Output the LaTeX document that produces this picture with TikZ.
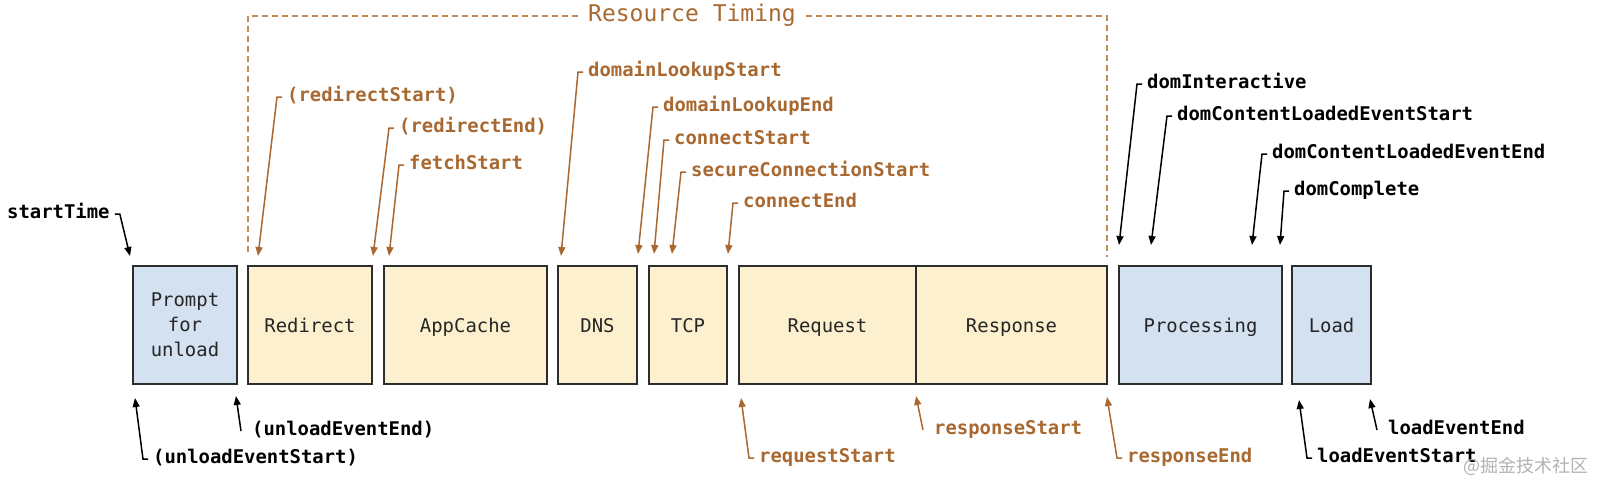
\documentclass[tikz,border=0pt]{standalone}
\usepackage{fontspec}
\usepackage{xcolor}
\usepackage{tikz}
\setmonofont{DejaVu Sans Mono}
\newfontfamily\cjkfont{Noto Sans CJK SC}
\definecolor{browserblue}{RGB}{212, 225, 241}
\definecolor{netyellow}{RGB}{252, 240, 207}
\definecolor{boxline}{RGB}{45, 45, 45}
\definecolor{timingbrown}{RGB}{168, 104, 48}
\definecolor{bracketbrown}{RGB}{196, 138, 86}
\usetikzlibrary{arrows.meta, positioning, calc}

\begin{document}
\begin{tikzpicture}[
    x=1pt, y=-1pt,
    phase/.style={rectangle, draw=boxline, line width=1.6pt, minimum height=118pt,
                  outer sep=0pt, align=center, text=black!85, text height=18pt, text depth=3pt,
                  font=\ttfamily\fontsize{18.9}{25}\selectfont},
    browser/.style={phase, fill=browserblue},
    network/.style={phase, fill=netyellow},
    event/.style={anchor=west, inner xsep=5pt, inner ysep=0pt, text height=14pt, text depth=5pt,
                  font=\ttfamily\bfseries\fontsize{18.9}{23}\selectfont},
    netevent/.style={event, text=timingbrown},
    arrow/.style={-{Triangle[length=9pt, width=7pt]}, line width=1.5pt, black},
    netarrow/.style={arrow, timingbrown},
    bracket/.style={bracketbrown, line width=1.2pt, dash pattern=on 6pt off 4pt}
]
    \useasboundingbox (0,0) rectangle (1597,482);

    % phases
    \node[browser, minimum width=104pt, text height=, text depth=] (prompt) at (185,325) {\rule{0pt}{7pt}Prompt\\for\\unload};
    \node[network, minimum width=124pt, right=11pt of prompt] (redirect) {Redirect};
    \node[network, minimum width=163pt, right=12pt of redirect] (appcache) {AppCache};
    \node[network, minimum width=79pt, right=11pt of appcache] (dns) {DNS};
    \node[network, minimum width=78pt, right=12pt of dns] (tcp) {TCP};
    \node[network, minimum width=177pt, right=12pt of tcp] (request) {Request};
    \node[network, minimum width=191pt, right=0pt of request] (response) {Response};
    \node[browser, minimum width=163pt, right=12pt of response] (processing) {Processing};
    \node[browser, minimum width=79pt, right=10pt of processing] (load) {Load};

    % Resource Timing bracket
    \node[anchor=center, inner xsep=10pt, inner ysep=0pt, text height=15pt, text depth=5pt,
          text=timingbrown, font=\ttfamily\fontsize{23}{26}\selectfont] (restiming) at (692,16) {Resource Timing};
    \draw[bracket] (restiming.west) -| ([yshift=11pt]redirect.north west);
    \draw[bracket] (restiming.east) -| ([yshift=9pt]response.north east);

    % arrow tips
    \coordinate (tStartTime) at ([xshift=-3pt, yshift=10pt]prompt.north west);
    \coordinate (tRedirectStart) at ([xshift=10pt, yshift=10pt]redirect.north west);
    \coordinate (tRedirectEnd) at ([xshift=1pt, yshift=10pt]redirect.north east);
    \coordinate (tFetchStart) at ([xshift=5pt, yshift=10pt]appcache.north west);
    \coordinate (tLookupStart) at ([xshift=3pt, yshift=10pt]dns.north west);
    \coordinate (tLookupEnd) at ([xshift=1pt, yshift=12pt]dns.north east);
    \coordinate (tConnectStart) at ([xshift=5pt, yshift=12pt]tcp.north west);
    \coordinate (tSecureStart) at ([xshift=23pt, yshift=12pt]tcp.north west);
    \coordinate (tConnectEnd) at ([xshift=1pt, yshift=12pt]tcp.north east);
    \coordinate (tDomInteractive) at ([yshift=21pt]processing.north west);
    \coordinate (tContentStart) at ([xshift=32pt, yshift=21pt]processing.north west);
    \coordinate (tContentEnd) at ([xshift=-30pt, yshift=21pt]processing.north east);
    \coordinate (tDomComplete) at ([xshift=-2pt, yshift=21pt]processing.north east);
    \coordinate (tUnloadStart) at ([xshift=2pt, yshift=-14pt]prompt.south west);
    \coordinate (tUnloadEnd) at ([xshift=-1pt, yshift=-12pt]prompt.south east);
    \coordinate (tRequestStart) at ([xshift=2pt, yshift=-14pt]request.south west);
    \coordinate (tResponseStart) at ([yshift=-12pt]request.south east);
    \coordinate (tResponseEnd) at ([yshift=-13pt]response.south east);
    \coordinate (tLoadStart) at ([xshift=7pt, yshift=-16pt]load.south west);
    \coordinate (tLoadEnd) at ([xshift=-1pt, yshift=-15pt]load.south east);

    % events above
    \node[event] (lStartTime) at (2,214) {startTime};
    \node[netevent] (lRedirectStart) at (282,97) {(redirectStart)};
    \node[netevent] (lRedirectEnd) at (394,128) {(redirectEnd)};
    \node[netevent] (lFetchStart) at (404,165) {fetchStart};
    \node[netevent] (lLookupStart) at (583,72) {domainLookupStart};
    \node[netevent] (lLookupEnd) at (658,107) {domainLookupEnd};
    \node[netevent] (lConnectStart) at (669,140) {connectStart};
    \node[netevent] (lSecureStart) at (686,172) {secureConnectionStart};
    \node[netevent] (lConnectEnd) at (738,203) {connectEnd};
    \node[event] (lDomInteractive) at (1142,84) {domInteractive};
    \node[event] (lContentStart) at (1172,116) {domContentLoadedEventStart};
    \node[event] (lContentEnd) at (1267,154) {domContentLoadedEventEnd};
    \node[event] (lDomComplete) at (1289,191) {domComplete};

    % events below
    \node[event] (lUnloadStart) at (148,459) {(unloadEventStart)};
    \node[event] (lUnloadEnd) at (247,431) {(unloadEventEnd)};
    \node[netevent] (lRequestStart) at (754,458) {requestStart};
    \node[netevent] (lResponseStart) at (929,430) {responseStart};
    \node[netevent] (lResponseEnd) at (1122,458) {responseEnd};
    \node[event] (lLoadStart) at (1312,458) {loadEventStart};
    \node[event] (lLoadEnd) at (1383,430) {loadEventEnd};

    \draw[arrow] (lStartTime.east) -- ++(5,0) -- (tStartTime);
    \draw[netarrow] (lRedirectStart.west) -- ++(-5,0) -- (tRedirectStart);
    \draw[netarrow] (lRedirectEnd.west) -- ++(-5,0) -- (tRedirectEnd);
    \draw[netarrow] (lFetchStart.west) -- ++(-5,0) -- (tFetchStart);
    \draw[netarrow] (lLookupStart.west) -- ++(-5,0) -- (tLookupStart);
    \draw[netarrow] (lLookupEnd.west) -- ++(-5,0) -- (tLookupEnd);
    \draw[netarrow] (lConnectStart.west) -- ++(-5,0) -- (tConnectStart);
    \draw[netarrow] (lSecureStart.west) -- ++(-5,0) -- (tSecureStart);
    \draw[netarrow] (lConnectEnd.west) -- ++(-5,0) -- (tConnectEnd);
    \draw[arrow] (lDomInteractive.west) -- ++(-5,0) -- (tDomInteractive);
    \draw[arrow] (lContentStart.west) -- ++(-5,0) -- (tContentStart);
    \draw[arrow] (lContentEnd.west) -- ++(-5,0) -- (tContentEnd);
    \draw[arrow] (lDomComplete.west) -- ++(-5,0) -- (tDomComplete);

    \draw[arrow] (lUnloadStart.west) -- ++(-5,0) -- (tUnloadStart);
    \draw[arrow] ([xshift=-6pt]lUnloadEnd.west) -- (tUnloadEnd);
    \draw[netarrow] (lRequestStart.west) -- ++(-5,0) -- (tRequestStart);
    \draw[netarrow] ([xshift=-6pt]lResponseStart.west) -- (tResponseStart);
    \draw[netarrow] (lResponseEnd.west) -- ++(-5,0) -- (tResponseEnd);
    \draw[arrow] (lLoadStart.west) -- ++(-5,0) -- (tLoadStart);
    \draw[arrow] ([xshift=-6pt]lLoadEnd.west) -- (tLoadEnd);

    \node[text=black!30, font=\cjkfont\fontsize{18}{20}\selectfont] (watermark) at (1526,466) {@掘金技术社区};
\end{tikzpicture}
\end{document}
